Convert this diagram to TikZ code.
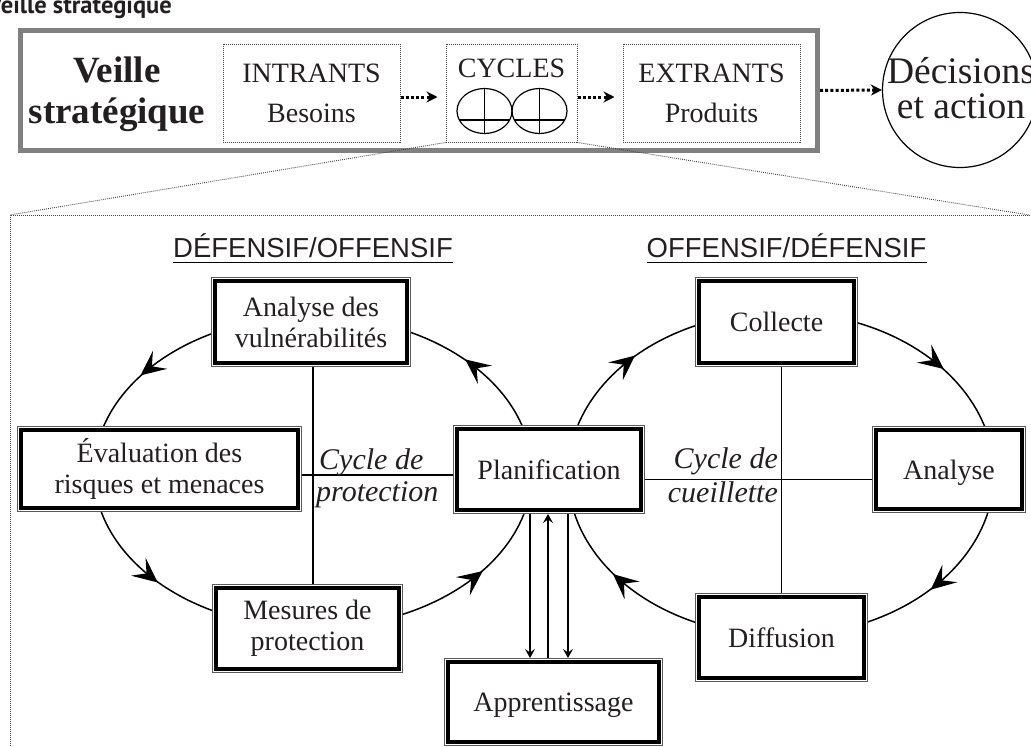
\documentclass[tikz,border=0pt]{standalone}
\usepackage{fontspec}
\setmainfont{Liberation Serif}
\newfontfamily\headsans{Liberation Sans}
\newfontfamily\titlesans{PT Sans}
\usetikzlibrary{arrows.meta,decorations.markings,calc}
\definecolor{ink}{HTML}{231F20}
\definecolor{framegray}{HTML}{808080}
\definecolor{thingray}{HTML}{5A5A5A}
\definecolor{dotgray}{HTML}{444444}
\begin{document}
\begin{tikzpicture}[x=1pt,y=-1pt,
  every node/.style={text=ink, inner sep=0pt},
  cbox/.style={rectangle, draw=black, line width=4.5pt, fill=white, outer sep=4pt,
    preaction={draw=thingray, line width=8pt},
    preaction={draw=white, line width=6pt},
    align=center, font=\fontsize{28}{31}\selectfont},
  oneline/.style={text height=19pt, text depth=0pt},
  dotbox/.style={rectangle, draw=dotgray, line width=1pt, dash pattern=on 1pt off 1pt,
    align=center, font=\fontsize{28}{40}\selectfont},
  thindot/.style={draw=dotgray, line width=0.9pt, dash pattern=on 0.9pt off 1.1pt},
  conn/.style={draw=black, line width=1.3pt},
  cycarc/.style={draw=black, line width=1.5pt, postaction={decorate},
    decoration={markings, mark=at position 0.5 with {\arrow[xshift=12pt]{Stealth[length=25pt,width=23pt,inset=10.5pt]}}}},
  smallarr/.style={conn, -{Stealth[length=9pt,width=10pt,inset=3.5pt]}},
  fatdot/.style={draw=black, line width=3pt, dash pattern=on 3pt off 2.2pt, -{Stealth[length=11pt,width=11pt]}},
  head/.style={font=\headsans\fontsize{27.5}{30}\selectfont},
  ital/.style={font=\itshape\fontsize{30}{32}\selectfont},
]
\useasboundingbox (0,0) rectangle (1031,747);

% ---------- top part ----------
\node[font=\titlesans\bfseries\fontsize{24.5}{28}\selectfont, anchor=base east] (title) at (172,13) {Veille stratégique};
\node[draw=framegray, line width=5pt, minimum width=797pt, minimum height=120pt] (frame) at (419,90.5) {};
\node[font=\bfseries\fontsize{37}{41}\selectfont, align=center] (veille) at (117,94) {Veille\\stratégique};
\node[dotbox, minimum width=177pt, minimum height=98pt] (intr) at (311.5,93) {INTRANTS\\Besoins};
\node[dotbox, minimum width=131pt, minimum height=98pt] (cyc) at (511.5,93) {};
\node[font=\fontsize{28}{31}\selectfont, anchor=base] (cyclab) at (511.5,77) {CYCLES};
\node[dotbox, minimum width=177pt, minimum height=98pt] (extr) at (711.5,93) {EXTRANTS\\Produits};
\node[circle, draw=black, line width=1.2pt, minimum size=155pt] (dec) at (960,90) {};
\node[font=\fontsize{37.5}{35}\selectfont, align=center] (dectext) at (961,88) {Décisions\\et action};

% the two small cycle icons
\draw[line width=1.2pt] (484.5,111) ellipse [x radius=27.5pt, y radius=22.5pt];
\draw[line width=1.2pt] (539.5,111) ellipse [x radius=27.5pt, y radius=22.5pt];
\draw[line width=1.1pt] (484.5,88.5) -- (484.5,133.5) (539.5,88.5) -- (539.5,133.5);
\draw[line width=1.1pt] (459.3,120) -- (509.7,120) (514.3,120) -- (564.7,120);

\draw[fatdot, shorten >=8pt] ([yshift=-4pt]intr.east) -- ([yshift=-4pt]intr.east -| cyc.west);
\draw[fatdot, shorten >=8pt] ([yshift=-4pt]cyc.east) -- ([yshift=-4pt]cyc.east -| extr.west);
\draw[fatdot] (frame.east) -- (dec.west);

% ---------- zoom frame ----------
\coordinate (zl) at (10,215);
\coordinate (zr) at (1029,215);
\draw[thindot] (cyc.south west) -- (zl);
\draw[thindot] (cyc.south east) -- (zr);
\draw[thindot] (1040,215) -- (zl) -- (10,760);

% ---------- headings ----------
\node[head, anchor=base] (hl) at (313,257) {DÉFENSIF/OFFENSIF};
\node[head, anchor=base] (hr) at (786.5,257) {OFFENSIF/DÉFENSIF};
\draw[line width=1.5pt] ([yshift=-5.5pt]hl.base west) -- ([yshift=-5.5pt]hl.base east);
\draw[line width=1.5pt] ([yshift=-5.5pt]hr.base west) -- ([yshift=-5.5pt]hr.base east);

% ---------- cycle ellipses ----------
\coordinate (LC) at (313,472);
\coordinate (RC) at (781,474);
\draw[cycarc] ($(LC)+(12:219pt and 156pt)$) arc[start angle=12, end angle=68.5, x radius=219pt, y radius=156pt];
\draw[cycarc] ($(LC)+(112.5:219pt and 156pt)$) arc[start angle=112.5, end angle=168, x radius=219pt, y radius=156pt];
\draw[cycarc] ($(LC)+(190:219pt and 156pt)$) arc[start angle=190, end angle=248, x radius=219pt, y radius=156pt];
\draw[cycarc] ($(LC)+(289:219pt and 156pt)$) arc[start angle=289, end angle=350, x radius=219pt, y radius=156pt];
\draw[cycarc] ($(RC)+(168.5:213pt and 162pt)$) arc[start angle=168.5, end angle=109, x radius=213pt, y radius=162pt];
\draw[cycarc] ($(RC)+(72:213pt and 162pt)$) arc[start angle=72, end angle=12, x radius=213pt, y radius=162pt];
\draw[cycarc] ($(RC)+(-7:213pt and 162pt)$) arc[start angle=-7, end angle=-72, x radius=213pt, y radius=162pt];
\draw[cycarc] ($(RC)+(-108:213pt and 162pt)$) arc[start angle=-108, end angle=-173, x radius=213pt, y radius=162pt];

% ---------- boxes ----------
\node[cbox, minimum width=192pt, minimum height=82pt] (avul) at (311,322) {Analyse des\\vulnérabilités};
\node[cbox, minimum width=277pt, minimum height=78pt] (eval) at (159.5,469) {Évaluation des\\risques et menaces};
\node[cbox, oneline, minimum width=184pt, minimum height=81pt] (plan) at (549,469.5) {Planification};
\node[cbox, minimum width=183pt, minimum height=81pt] (mes) at (307.5,628.5) {Mesures de\\protection};
\node[cbox, oneline, minimum width=211pt, minimum height=80pt] (app) at (553.5,702) {Apprentissage};
\node[cbox, oneline, minimum width=155pt, minimum height=82pt] (col) at (776.5,322) {Collecte};
\node[cbox, oneline, minimum width=146pt, minimum height=79pt] (ana) at (949,469.5) {Analyse};
\node[cbox, oneline, minimum width=165pt, minimum height=81pt] (dif) at (781.5,637.5) {Diffusion};

% ---------- straight connectors ----------
\draw[conn] ([xshift=2pt]avul.south) -- ([xshift=2pt]avul.south |- mes.north);
\draw[conn] (col.south -| dif.north) -- (dif.north);
\draw[conn] ([yshift=-6pt]eval.east) -- ([yshift=-6pt]eval.east -| plan.west);
\draw[conn] ([yshift=-10pt]plan.east) -- ([yshift=-10pt]plan.east -| ana.west);

\draw[smallarr] ([xshift=-19pt]plan.south) -- ([xshift=-19pt]plan.south |- app.north);
\draw[smallarr] ([xshift=-1pt]plan.south |- app.north) -- ([xshift=-1pt]plan.south);
\draw[smallarr] ([xshift=19pt]plan.south) -- ([xshift=19pt]plan.south |- app.north);

% ---------- cycle labels ----------
\node[ital, anchor=base west] (cp1) at (319,469) {Cycle de};
\node[ital, anchor=base west] (cp2) at (316,501) {protection};
\node[ital, anchor=base east] (cc1) at (778,468) {Cycle de};
\node[ital, anchor=base east] (cc2) at (778,502) {cueillette};
\end{tikzpicture}
\end{document}
